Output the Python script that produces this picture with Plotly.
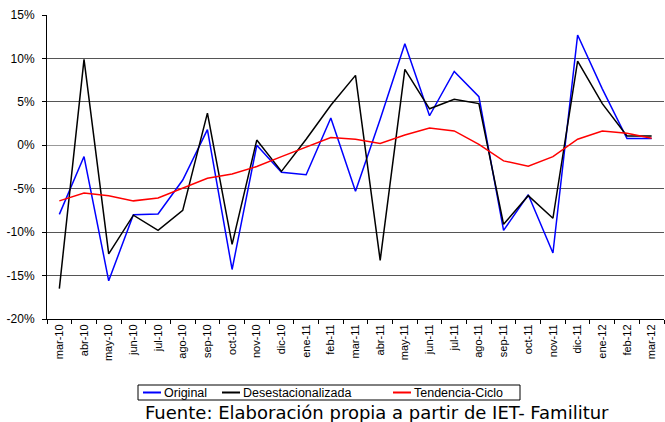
import plotly.graph_objects as go

months = ["mar-10", "abr-10", "may-10", "jun-10", "jul-10", "ago-10", "sep-10", "oct-10",
          "nov-10", "dic-10", "ene-11", "feb-11", "mar-11", "abr-11", "may-11", "jun-11",
          "jul-11", "ago-11", "sep-11", "oct-11", "nov-11", "dic-11", "ene-12", "feb-12", "mar-12"]

original = [-7.95, -1.3, -15.6, -8.0, -7.9, -4.0, 1.8, -14.3, 0.0, -3.1, -3.4, 3.15, -5.3,
            3.0, 11.7, 3.4, 8.5, 5.6, -9.8, -5.7, -12.4, 12.7, 6.5, 0.77, 0.77]

desestacionalizada = [-16.5, 9.9, -12.5, -8.05, -9.8, -7.5, 3.7, -11.4, 0.6, -3.0, 0.7, 4.6, 8.05,
                      -13.25, 8.75, 4.2, 5.3, 4.8, -9.1, -5.8, -8.4, 9.7, 4.8, 1.07, 1.07]

tendencia = [-6.4, -5.5, -5.8, -6.4, -6.07, -4.9, -3.8, -3.3, -2.45, -1.3, -0.2, 0.9, 0.7,
             0.2, 1.19, 2.0, 1.65, 0.1, -1.8, -2.4, -1.3, 0.7, 1.65, 1.38, 0.8]

series_names = ["Original", "Desestacionalizada", "Tendencia-Ciclo"]
series_colors = ["#0000FF", "#000000", "#FF0000"]
source_text = "Fuente: Elaboración propia a partir de IET- Familitur"

y_ticks = [-20, -15, -10, -5, 0, 5, 10, 15]
y_labels = [f"{v}%" for v in y_ticks]

W, H = 665, 422
L, R, T, B = 47, 1, 15, 103
PW, PH = W - L - R, H - T - B


def px_x(px):
    return (px - L) / PW


def px_y(py):
    return (H - B - py) / PH


fig = go.Figure()
for name, vals, col in zip(series_names, [original, desestacionalizada, tendencia], series_colors):
    fig.add_trace(go.Scatter(x=months, y=vals, name=name, mode="lines",
                             line=dict(color=col, width=1.5)))

fig.update_layout(
    width=W, height=H,
    margin=dict(l=L, r=R, t=T, b=B, autoexpand=False),
    paper_bgcolor="white", plot_bgcolor="white",
    font=dict(family="Liberation Sans, Arial, sans-serif", size=11, color="black"),
    showlegend=False,
)

fig.update_xaxes(
    type="category", range=[-0.5, 24.5], tickangle=-90, automargin=False,
    showline=True, linecolor="black", linewidth=1,
    ticks="outside", ticklen=4, tickcolor="black", tickson="boundaries",
    showgrid=False, tickfont=dict(size=11),
)
fig.update_yaxes(
    range=[-20, 15], tickvals=y_ticks, ticktext=y_labels, automargin=False,
    showline=True, linecolor="black", linewidth=1,
    ticks="outside", ticklen=4, tickcolor="black",
    showgrid=True, gridcolor="#555555", gridwidth=1,
    zeroline=True, zerolinecolor="#999999", zerolinewidth=1,
    tickfont=dict(size=12), ticklabelstandoff=5,
)

# legend box drawn in layout
box = (138, 385, 520, 400)
fig.add_shape(type="rect", xref="paper", yref="paper",
              x0=px_x(box[0]), x1=px_x(box[2]), y0=px_y(box[1]), y1=px_y(box[3]),
              line=dict(color="black", width=1), fillcolor="white", layer="above")
item_starts = [143, 222, 393]
ym = px_y((box[1] + box[3]) / 2)
for name, col, xs in zip(series_names, series_colors, item_starts):
    fig.add_shape(type="line", xref="paper", yref="paper",
                  x0=px_x(xs), x1=px_x(xs + 18), y0=ym, y1=ym,
                  line=dict(color=col, width=2), layer="above")
    fig.add_annotation(text=name, xref="paper", yref="paper", x=px_x(xs + 19), y=ym,
                       xanchor="left", yanchor="middle", showarrow=False,
                       font=dict(family="Liberation Sans, Arial", size=12.5, color="black"))

fig.add_annotation(text=source_text,
                   xref="paper", yref="paper", x=px_x(377), y=px_y(400), yanchor="top",
                   showarrow=False, font=dict(family="DejaVu Sans, Verdana", size=18, color="black"))

fig.write_html("out.html", config={"displayModeBar": False},
               post_script="document.body.style.margin='0px';")
